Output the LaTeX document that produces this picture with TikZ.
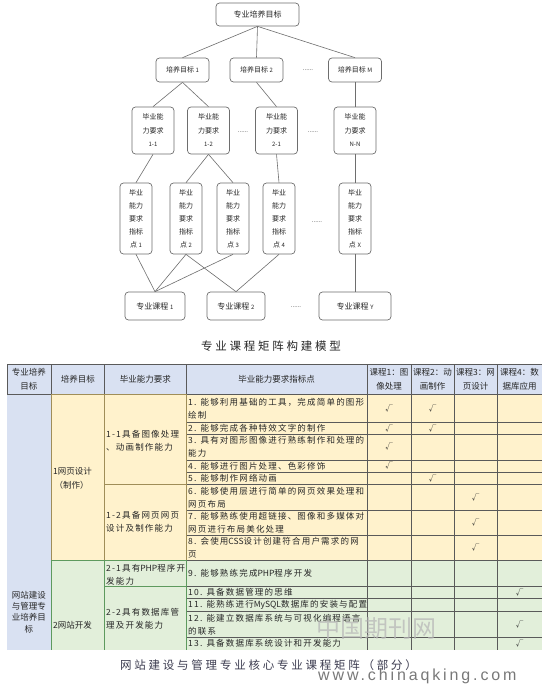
\documentclass[tikz,border=0pt]{standalone}
\usepackage{fontspec}
\setmainfont{Noto Sans CJK SC}
\newfontfamily\cellfont[LetterSpace=14]{Noto Sans CJK SC}
\newfontfamily\capfont[LetterSpace=24]{Noto Sans CJK SC}
\newfontfamily\urlfont[LetterSpace=18]{Liberation Sans}
\usetikzlibrary{positioning,calc}
\definecolor{Ink}{HTML}{262626}
\definecolor{Edge}{HTML}{6E6E6E}
\definecolor{Grid}{HTML}{5A5A5A}
\definecolor{HeadFill}{HTML}{D9E1F2}
\definecolor{YellowFill}{HTML}{FFF2CC}
\definecolor{GreenFill}{HTML}{E2EFDA}
\definecolor{Olive}{HTML}{A08E58}
\definecolor{Leaf}{HTML}{5E9A5E}
\definecolor{Slate}{HTML}{3C3C50}
\tikzset{
  tbox/.style={draw=Edge,fill=white,rounded corners=3.5pt,line width=.7pt,align=center,inner sep=0pt,text=Ink,font=\fontsize{7}{13.5}\selectfont},
  aimbox/.style={tbox,minimum width=83pt,minimum height=23pt,font=\fontsize{8}{10}\selectfont},
  goalbox/.style={tbox,minimum width=53pt,minimum height=24pt},
  reqbox/.style={tbox,minimum width=42pt,minimum height=47pt},
  ptbox/.style={tbox,minimum width=32pt,minimum height=71pt,font=\fontsize{7}{13}\selectfont},
  coursebox/.style={tbox,minimum width=60pt,minimum height=28pt,font=\fontsize{8}{10}\selectfont},
  link/.style={draw=Edge,line width=.6pt},
  dots/.style={inner sep=0pt,text=Ink,font=\fontsize{6}{6}\selectfont},
  grid/.style={draw=Grid,line width=.6pt},
  head/.style={inner sep=0pt,align=center,text=Ink,font=\fontsize{8.5}{14}\selectfont},
  cell/.style={inner sep=0pt,align=left,anchor=west,text=Ink,font=\cellfont\fontsize{8.5}{13}\selectfont},
  tick/.style={inner sep=0pt,text=Ink,font=\fontsize{7.5}{8}\selectfont},
  caption/.style={inner sep=0pt,font=\capfont\fontsize{11.5}{12}\selectfont}
}
\newcommand\sm[1]{{\fontsize{6}{6}\selectfont #1}}
\newcommand\lat[1]{{\normalfont #1}}

\begin{document}
\begin{tikzpicture}[x=1pt,y=-1pt]
  \useasboundingbox (0,0) rectangle (542,686);
  \fill[white] (0,0) rectangle (542,686);
  \node[aimbox] (aim) at (257.5,14.5) {专业培养目标};
  \node[goalbox] (goal1) at (182.5,70) {培养目标 \sm{1}};
  \node[goalbox] (goal2) at (256.5,70) {培养目标 \sm{2}};
  \node[goalbox] (goalM) at (355,70) {培养目标 \sm{M}};
  \node[dots] (dotsA) at (308,70) {......};
  \node[reqbox] (req11) at (153,130.5) {毕业能\\力要求\\\sm{1-1}};
  \node[reqbox] (req12) at (208.5,130.5) {毕业能\\力要求\\\sm{1-2}};
  \node[reqbox] (req21) at (276.5,130.5) {毕业能\\力要求\\\sm{2-1}};
  \node[reqbox] (reqNN) at (355,130.5) {毕业能\\力要求\\\sm{N-N}};
  \node[dots] (dotsB) at (243,132) {......};
  \node[dots] (dotsC) at (313,132) {......};
  \node[ptbox] (pt1) at (136,218.5) {毕业\\能力\\要求\\指标\\点 \sm{1}};
  \node[ptbox] (pt2) at (186,218.5) {毕业\\能力\\要求\\指标\\点 \sm{2}};
  \node[ptbox] (pt3) at (233,218.5) {毕业\\能力\\要求\\指标\\点 \sm{3}};
  \node[ptbox] (pt4) at (279,218.5) {毕业\\能力\\要求\\指标\\点 \sm{4}};
  \node[ptbox] (ptX) at (355,218.5) {毕业\\能力\\要求\\指标\\点 \sm{X}};
  \node[dots] (dotsD) at (317,222) {......};
  \node[coursebox] (course1) at (155,306) {专业课程 \sm{1}};
  \node[coursebox,minimum width=58pt] (course2) at (236,306) {专业课程 \sm{2}};
  \node[coursebox,minimum width=72pt] (courseY) at (355,306) {专业课程 \sm{Y}};
  \node[dots] (dotsE) at (296,307) {......};
  \draw[link] (aim.south) -- (goal1.north);
  \draw[link] (aim.south) -- (goal2.north);
  \draw[link] (aim.south) -- (goalM.north);
  \draw[link] (goal1.south) -- (req11.north);
  \draw[link] (goal1.south) -- (req12.north);
  \draw[link] (goal2.south) -- (req21.north);
  \draw[link] (goalM.south) -- (reqNN.north);
  \draw[link] (req11.south) -- (pt1.north);
  \draw[link] (req12.south) -- (pt2.north);
  \draw[link] (req12.south) -- (pt3.north);
  \draw[link] (req21.south) -- (pt4.north);
  \draw[link] (reqNN.south) -- (ptX.north);
  \draw[link] (pt1.south) -- (course1.north);
  \draw[link] (pt2.south) -- (course1.north);
  \draw[link] (pt3.south) -- (course1.north);
  \draw[link] (pt2.south) -- (course2.north);
  \draw[link] (pt4.south) -- (course2.north);
  \draw[link] (ptX.south) -- (courseY.north);
  \node[caption,text=Ink] (capTree) at (271,346.5) {专业课程矩阵构建模型};

  \fill[HeadFill] (7,364) rectangle (542,394);
  \fill[HeadFill] (7,394) rectangle (51,649.5);
  \fill[YellowFill] (51,394) rectangle (542,560.5);
  \fill[GreenFill] (51,560.5) rectangle (542,649.5);
  \foreach \x in {51,104.5,186,367,411,454,497}
    \draw[grid] (\x,364) -- (\x,649.5);
  \draw[grid] (7,364) -- (7,394);
  \draw[grid] (7,364) -- (542,364);
  \draw[grid] (7,394) -- (542,394);
  \foreach \y in {422.7,434,460,472,484.5,510,535,560.5,586,598.3,611,637.7}
    \draw[grid] (186,\y) -- (542,\y);
  \draw[Olive,line width=.7pt] (51,394) rectangle (186,560.5) (104.5,394) -- (104.5,560.5) (104.5,484.5) -- (186,484.5);
  \draw[Leaf,line width=.8pt] (51,649.5) -- (51,560.5) -- (186,560.5) -- (186,649.5) (104.5,560.5) -- (104.5,649.5) (104.5,586) -- (186,586);

  \node[head] (hAim) at (29,379) {专业培养\\目标};
  \node[head] (hGoal) at (77.75,379) {培养目标};
  \node[head] (hReq) at (145.25,379) {毕业能力要求};
  \node[head] (hPt) at (276.5,379) {毕业能力要求指标点};
  \node[head] (hC1) at (389,379) {课程1：图\\像处理};
  \node[head] (hC2) at (432.5,379) {课程2：动\\画制作};
  \node[head] (hC3) at (475.5,379) {课程3：网\\页设计};
  \node[head] (hC4) at (519.5,379) {课程4：数\\据库应用};

  \node[head,font=\fontsize{8.5}{11.3}\selectfont] (aimText) at (29,612) {网站建设\\与管理专\\业培养目\\标};
  \node[head,anchor=west,align=left] (goalWeb) at (53,478) {1网页设计\\\,（制作）};
  \node[head,anchor=west] (goalSite) at (53,625) {2网站开发};
  \node[cell] (req1a) at (106,440.5) {1-1具备图像处理\\、动画制作能力};
  \node[cell] (req1b) at (106,521.5) {1-2具备网页网页\\设计及制作能力};
  \node[cell] (req2a) at (106,574.5) {2-1具有\lat{PHP}程序开\\发能力};
  \node[cell] (req2b) at (106,618.5) {2-2具有数据库管\\理及开发能力};

  \node[cell] (p1) at (188,408.3) {1. 能够利用基础的工具，完成简单的图形\\绘制};
  \node[cell] (p2) at (188,428.3) {2. 能够完成各种特效文字的制作};
  \node[cell] (p3) at (188,447) {3. 具有对图形图像进行熟练制作和处理的\\能力};
  \node[cell] (p4) at (188,466) {4. 能够进行图片处理、色彩修饰};
  \node[cell] (p5) at (188,478.3) {5. 能够制作网络动画};
  \node[cell] (p6) at (188,497.3) {6. 能够使用层进行简单的网页效果处理和\\网页布局};
  \node[cell] (p7) at (188,522.5) {7. 能够熟练使用超链接、图像和多媒体对\\网页进行布局美化处理};
  \node[cell] (p8) at (188,547.8) {8. 会使用\lat{CSS}设计创建符合用户需求的网\\页};
  \node[cell] (p9) at (188,573.3) {9. 能够熟练完成\lat{PHP}程序开发};
  \node[cell] (p10) at (188,592.2) {10. 具备数据管理的思维};
  \node[cell] (p11) at (188,604.7) {11. 能熟练进行\lat{MySQL}数据库的安装与配置};
  \node[cell] (p12) at (188,624.4) {12. 能建立数据库系统与可视化编程语言\\的联系};
  \node[cell] (p13) at (188,643.6) {13. 具备数据库系统设计和开发能力};
  \foreach \x/\y in {389/408.3,432.5/408.3,389/428.3,432.5/428.3,389/447,389/466,432.5/478.3,
      475.5/497.3,475.5/522.5,475.5/547.8,519.5/592.2,519.5/624.4,519.5/643.6}
    \node[tick] at (\x,\y) {√};

  \node[inner sep=0pt,text=black!28,opacity=.75,font=\fontsize{24}{24}\selectfont] (stamp) at (376,628) {中国期刊网};
  \node[caption,text=Slate,anchor=west] (capTable) at (120,665) {网站建设与管理专业核心专业课程矩阵（部分）};
  \node[inner sep=0pt,anchor=base west,text=black!62,opacity=.85,font=\urlfont\fontsize{16}{16}\selectfont] (url) at (318,680.5) {www.chinaqking.com};
\end{tikzpicture}
\end{document}
